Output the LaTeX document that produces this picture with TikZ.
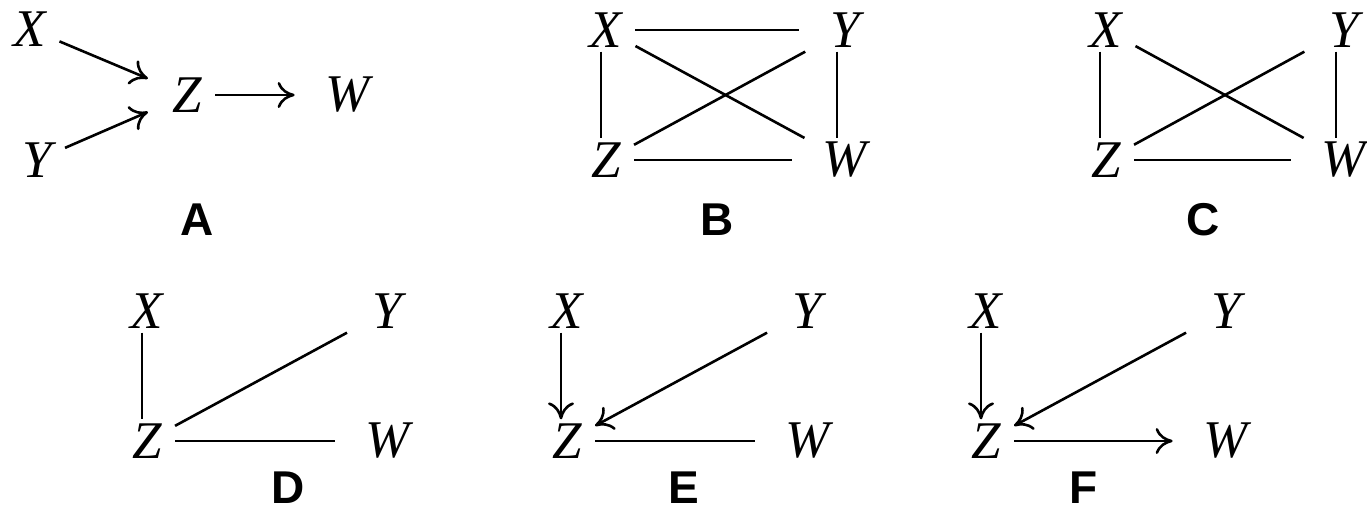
\documentclass[tikz,border=0pt]{standalone}
\usepackage{fontspec}
\setmainfont{Liberation Serif}
\newfontfamily\labelfont{Liberation Sans}
\usetikzlibrary{arrows.meta}

\begin{document}
\begin{tikzpicture}[
  x=1pt, y=-1pt, line width=2.6pt,
  vertex/.style={inner xsep=12pt,inner ysep=3pt,font=\fontsize{53}{60}\selectfont\itshape},
  rvertex/.style={vertex,inner xsep=30pt},
  plabel/.style={inner sep=0pt,font=\fontsize{46}{50}\selectfont\labelfont\bfseries},
  arr/.style={-{Computer Modern Rightarrow[length=17pt,width=26pt]}}
]
  \useasboundingbox (0,0) rectangle (1367,515);
  \node[vertex] (aX) at (30,29) {X};
  \node[vertex] (aY) at (37,160) {Y};
  \node[vertex] (aZ) at (187,95) {Z};
  \node[rvertex] (aW) at (348,95) {W};
  \node[plabel] (aL) at (197,220) {A};
  \draw[arr,shorten >=12pt] (aX) -- (aZ);
  \draw[arr,shorten >=12pt] (aY) -- (aZ);
  \draw[arr] (aZ) -- (aW);
  \node[vertex] (bX) at (606,30) {X};
  \node[rvertex] (bY) at (845,30) {Y};
  \node[vertex] (bZ) at (606,160) {Z};
  \node[rvertex] (bW) at (845,160) {W};
  \node[plabel] (bL) at (717,220) {B};
  \draw (bX) -- (bY);
  \draw ([xshift=-5pt]bX.south) -- ([xshift=-5pt]bZ.north);
  \draw ([xshift=-8pt]bY.south) -- ([xshift=-8pt]bW.north);
  \draw (bZ) -- (bW);
  \draw (bX) -- (bW);
  \draw (bZ) -- (bY);
  \node[vertex] (cX) at (1106,30) {X};
  \node[rvertex] (cY) at (1344,30) {Y};
  \node[vertex] (cZ) at (1106,160) {Z};
  \node[rvertex] (cW) at (1344,160) {W};
  \node[plabel] (cL) at (1203,220) {C};
  \draw ([xshift=-6pt]cX.south) -- ([xshift=-6pt]cZ.north);
  \draw ([xshift=-8pt]cY.south) -- ([xshift=-8pt]cW.north);
  \draw (cZ) -- (cW);
  \draw (cX) -- (cW);
  \draw (cZ) -- (cY);
  \node[vertex] (dX) at (147,311) {X};
  \node[rvertex] (dY) at (387,311) {Y};
  \node[vertex] (dZ) at (147,441) {Z};
  \node[rvertex] (dW) at (388,441) {W};
  \node[plabel] (dL) at (288,488) {D};
  \draw ([xshift=-5pt]dX.south) -- ([xshift=-5pt]dZ.north);
  \draw (dZ) -- (dY);
  \draw (dZ) -- (dW);
  \node[vertex] (eX) at (567,311) {X};
  \node[rvertex] (eY) at (807,311) {Y};
  \node[vertex] (eZ) at (567,441) {Z};
  \node[rvertex] (eW) at (808,441) {W};
  \node[plabel] (eL) at (684,488) {E};
  \draw[arr] ([xshift=-6pt]eX.south) -- ([xshift=-6pt]eZ.north);
  \draw[arr] (eY) -- (eZ);
  \draw (eZ) -- (eW);
  \node[vertex] (fX) at (986,311) {X};
  \node[rvertex] (fY) at (1226,311) {Y};
  \node[vertex] (fZ) at (986,441) {Z};
  \node[rvertex] (fW) at (1226,441) {W};
  \node[plabel] (fL) at (1084,488) {F};
  \draw[arr] ([xshift=-5pt]fX.south) -- ([xshift=-5pt]fZ.north);
  \draw[arr] (fY) -- (fZ);
  \draw[arr] (fZ) -- (fW);
\end{tikzpicture}
\end{document}
